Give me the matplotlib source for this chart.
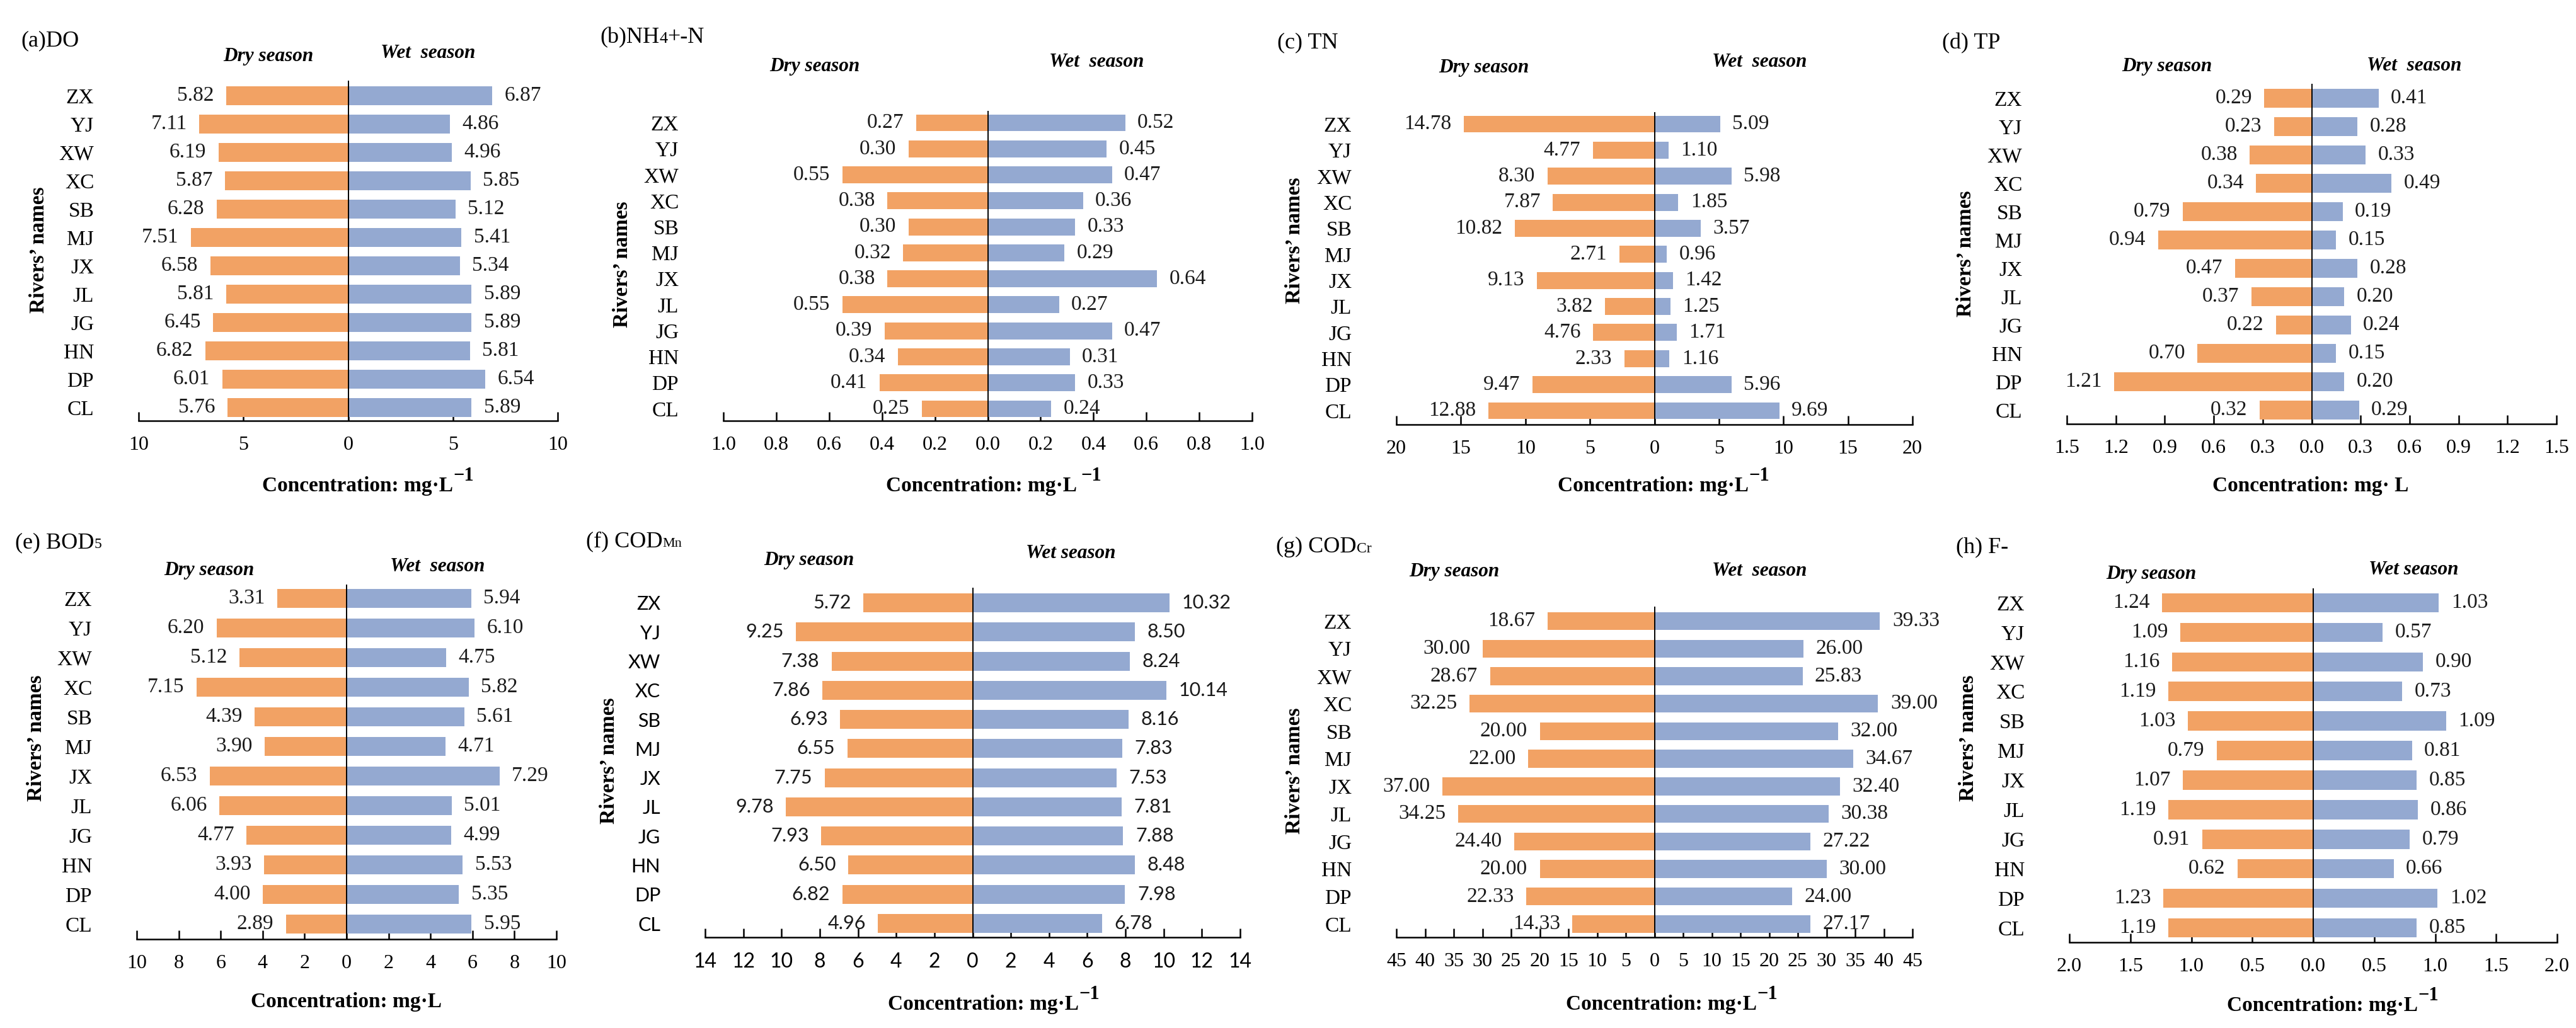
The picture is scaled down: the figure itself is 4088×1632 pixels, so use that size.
import numpy as np
import matplotlib
matplotlib.use("Agg")
import matplotlib.pyplot as plt

W, H = 4088, 1632
ORANGE = "#F2A264"
BLUE = "#94A9D1"
SERIF = "Liberation Serif"
SANS = "Lato"

plt.rcParams["font.family"] = [SERIF, "DejaVu Sans"]

# ── Data ──────────────────────────────────────────────────────────────────
rivers = ["ZX", "YJ", "XW", "XC", "SB", "MJ", "JX", "JL", "JG", "HN", "DP", "CL"]

do_dry = [5.82, 7.11, 6.19, 5.87, 6.28, 7.51, 6.58, 5.81, 6.45, 6.82, 6.01, 5.76]
do_wet = [6.87, 4.86, 4.96, 5.85, 5.12, 5.41, 5.34, 5.89, 5.89, 5.81, 6.54, 5.89]
nh4_dry = [0.27, 0.30, 0.55, 0.38, 0.30, 0.32, 0.38, 0.55, 0.39, 0.34, 0.41, 0.25]
nh4_wet = [0.52, 0.45, 0.47, 0.36, 0.33, 0.29, 0.64, 0.27, 0.47, 0.31, 0.33, 0.24]
tn_dry = [14.78, 4.77, 8.30, 7.87, 10.82, 2.71, 9.13, 3.82, 4.76, 2.33, 9.47, 12.88]
tn_wet = [5.09, 1.10, 5.98, 1.85, 3.57, 0.96, 1.42, 1.25, 1.71, 1.16, 5.96, 9.69]
tp_dry = [0.29, 0.23, 0.38, 0.34, 0.79, 0.94, 0.47, 0.37, 0.22, 0.70, 1.21, 0.32]
tp_wet = [0.41, 0.28, 0.33, 0.49, 0.19, 0.15, 0.28, 0.20, 0.24, 0.15, 0.20, 0.29]
bod_dry = [3.31, 6.20, 5.12, 7.15, 4.39, 3.90, 6.53, 6.06, 4.77, 3.93, 4.00, 2.89]
bod_wet = [5.94, 6.10, 4.75, 5.82, 5.61, 4.71, 7.29, 5.01, 4.99, 5.53, 5.35, 5.95]
codmn_dry = [5.72, 9.25, 7.38, 7.86, 6.93, 6.55, 7.75, 9.78, 7.93, 6.50, 6.82, 4.96]
codmn_wet = [10.32, 8.50, 8.24, 10.14, 8.16, 7.83, 7.53, 7.81, 7.88, 8.48, 7.98, 6.78]
codcr_dry = [18.67, 30.00, 28.67, 32.25, 20.00, 22.00, 37.00, 34.25, 24.40, 20.00, 22.33, 14.33]
codcr_wet = [39.33, 26.00, 25.83, 39.00, 32.00, 34.67, 32.40, 30.38, 27.22, 30.00, 24.00, 27.17]
f_dry = [1.24, 1.09, 1.16, 1.19, 1.03, 0.79, 1.07, 1.19, 0.91, 0.62, 1.23, 1.19]
f_wet = [1.03, 0.57, 0.90, 0.73, 1.09, 0.81, 0.85, 0.86, 0.79, 0.66, 1.02, 0.85]

# ── Layout (pixel positions in the 4088x1632 canvas) ─────────────────────
# box = (left, right, top, axis-line y); rows = (centre y of ZX, centre y of CL)
panels = [
    dict(dry=do_dry, wet=do_wet, box=(220, 885, 128, 668), rows=(152, 647),
         xmax=10, step=5, dec=0,
         title=[("(a)DO", 26, 0)], title_xy=(33, 73),
         dry_xy=(426, 89), wet_xy=(679, 84), wet_txt="Wet  season",
         riv_xy=(61, 397), xl_xy=(584, 780), xl="Concentration: mg·L", sup="\u22121"),
    dict(dry=nh4_dry, wet=nh4_wet, box=(1148, 1987, 176, 668), rows=(195, 649),
         xmax=1.0, step=0.2, dec=1,
         title=[("(b)NH", 26, 0), ("4", 19, 0), ("+-N", 26, 0)], title_xy=(952, 68),
         dry_xy=(1293, 105), wet_xy=(1740, 98), wet_txt="Wet  season",
         riv_xy=(987, 420), xl_xy=(1577, 780), xl="Concentration: mg·L ", sup="\u22121"),
    dict(dry=tn_dry, wet=tn_wet, box=(2216, 3035, 178, 674), rows=(197, 652),
         xmax=20, step=5, dec=0,
         title=[("(c) TN", 26, 0)], title_xy=(2027, 76),
         dry_xy=(2355, 107), wet_xy=(2792, 99), wet_txt="Wet  season",
         riv_xy=(2054, 382), xl_xy=(2640, 780), xl="Concentration: mg·L", sup="\u22121"),
    dict(dry=tp_dry, wet=tp_wet, box=(3280, 4057, 133, 673), rows=(156, 651),
         xmax=1.5, step=0.3, dec=1,
         title=[("(d) TP", 26, 0)], title_xy=(3082, 77),
         dry_xy=(3439, 105), wet_xy=(3831, 104), wet_txt="Wet  season",
         riv_xy=(3120, 403), xl_xy=(3667, 780), xl="Concentration: mg· L", sup=None),
    dict(dry=bod_dry, wet=bod_wet, box=(217, 883, 928, 1491), rows=(950, 1467),
         xmax=10, step=2, dec=0,
         title=[("(e) BOD", 26, 0), ("5", 17, 0)], title_xy=(24, 870),
         dry_xy=(332, 905), wet_xy=(694, 899), wet_txt="Wet  season",
         riv_xy=(57, 1172), xl_xy=(549, 1599), xl="Concentration: mg·L", sup=None),
    dict(dry=codmn_dry, wet=codmn_wet, box=(1119, 1968, 933, 1488), rows=(957, 1466),
         xmax=14, step=2, dec=0, sans=True,
         title=[("(f) COD", 26, 0), ("Mn", 16, 0)], title_xy=(930, 868),
         dry_xy=(1284, 890), wet_xy=(1699, 878), wet_txt="Wet season",
         riv_xy=(966, 1208), xl_xy=(1577, 1603), xl="Concentration: mg·L", sup="\u22121"),
    dict(dry=codcr_dry, wet=codcr_wet, box=(2216, 3035, 963, 1488), rows=(986, 1467),
         xmax=45, step=5, dec=0,
         title=[("(g) COD", 26, 0), ("Cr", 17, 0)], title_xy=(2025, 877),
         dry_xy=(2308, 907), wet_xy=(2792, 907), wet_txt="Wet  season",
         riv_xy=(2054, 1224), xl_xy=(2653, 1603), xl="Concentration: mg·L", sup="\u22121"),
    dict(dry=f_dry, wet=f_wet, box=(3284, 4058, 934, 1496), rows=(957, 1473),
         xmax=2.0, step=0.5, dec=1,
         title=[("(h) F-", 26, 0)], title_xy=(3104, 877),
         dry_xy=(3414, 912), wet_xy=(3830, 905), wet_txt="Wet season",
         riv_xy=(3123, 1172), xl_xy=(3702, 1605), xl="Concentration: mg·L", sup="\u22121"),
]

fig = plt.figure(figsize=(W / 100, H / 100), dpi=100, facecolor="white")
renderer = fig.canvas.get_renderer()


def fx(x):
    return x / W


def fy(y):
    return 1 - y / H


def rich(x, y, parts, ha="left", **kw):
    """Draw baseline-aligned text runs of different sizes side by side."""
    texts, cur = [], x
    for s, fs, dy in parts:
        t = fig.text(fx(cur), fy(y - dy), s, fontsize=fs, ha="left",
                     va="baseline", **kw)
        cur += t.get_window_extent(renderer).width
        texts.append(t)
    if ha == "center":
        shift = (cur - x) / 2
        for t in texts:
            px, py = t.get_position()
            t.set_position((px - shift / W, py))
    return texts


n = len(rivers)
ypos = np.arange(n)[::-1]          # ZX at the top

for p in panels:
    left, right, top, bottom = p["box"]
    zx_y, cl_y = p["rows"]
    ax = fig.add_axes([fx(left), fy(bottom), (right - left) / W, (bottom - top) / H])
    font = SANS if p.get("sans") else SERIF
    lab_fs = 22 if p.get("sans") else 24

    dry = np.array(p["dry"])
    wet = np.array(p["wet"])
    bd = ax.barh(ypos, -dry, height=0.65, color=ORANGE, edgecolor="none", zorder=2)
    bw = ax.barh(ypos, wet, height=0.65, color=BLUE, edgecolor="none", zorder=2)
    ax.bar_label(bd, labels=[f"{v:.2f}" for v in dry], padding=14,
                 fontsize=lab_fs, family=font, color="#1a1a1a")
    ax.bar_label(bw, labels=[f"{v:.2f}" for v in wet], padding=14,
                 fontsize=lab_fs, family=font, color="#1a1a1a")
    ax.axvline(0, color="black", lw=1.4, zorder=3)

    # limits matched to the pixel layout
    s = (cl_y - zx_y) / (n - 1)
    ax.set_ylim(-(bottom - cl_y) / s, (n - 1) + (zx_y - top) / s)
    xm = p["xmax"]
    ax.set_xlim(-xm, xm)
    ticks = np.round(np.arange(-xm, xm + p["step"] / 2, p["step"]), 6)
    ax.set_xticks(ticks)
    ax.set_xticklabels([f"{abs(v):.{p['dec']}f}" for v in ticks],
                       family=font, fontsize=23)
    ax.set_yticks(ypos)
    ax.set_yticklabels(rivers, family=font, fontsize=lab_fs)

    for side in ("top", "right", "left"):
        ax.spines[side].set_visible(False)
    ax.spines["bottom"].set_linewidth(1.8)
    ax.tick_params(axis="x", direction="in", length=10, width=1.8, pad=17)
    ax.tick_params(axis="y", length=0, pad=51)
    ax.set_facecolor("none")

    # panel title
    rich(p["title_xy"][0], p["title_xy"][1], p["title"], color="black")

    # season headers
    fig.text(fx(p["dry_xy"][0]), fy(p["dry_xy"][1]), "Dry season", fontsize=22.5,
             fontweight="bold", fontstyle="italic", ha="center", va="center")
    fig.text(fx(p["wet_xy"][0]), fy(p["wet_xy"][1]), p["wet_txt"], fontsize=22.5,
             fontweight="bold", fontstyle="italic", ha="center", va="center")

    # y label
    fig.text(fx(p["riv_xy"][0]), fy(p["riv_xy"][1]), "Rivers\u2019 names", fontsize=24,
             fontweight="bold", rotation=90, ha="center", va="center")

    # x label
    parts = [(p["xl"], 24, 0)]
    if p["sup"]:
        parts.append((p["sup"], 22, 17))
    rich(p["xl_xy"][0], p["xl_xy"][1], parts, ha="center", fontweight="bold")

fig.savefig("out.png", dpi=100, facecolor="white")
plt.close(fig)
